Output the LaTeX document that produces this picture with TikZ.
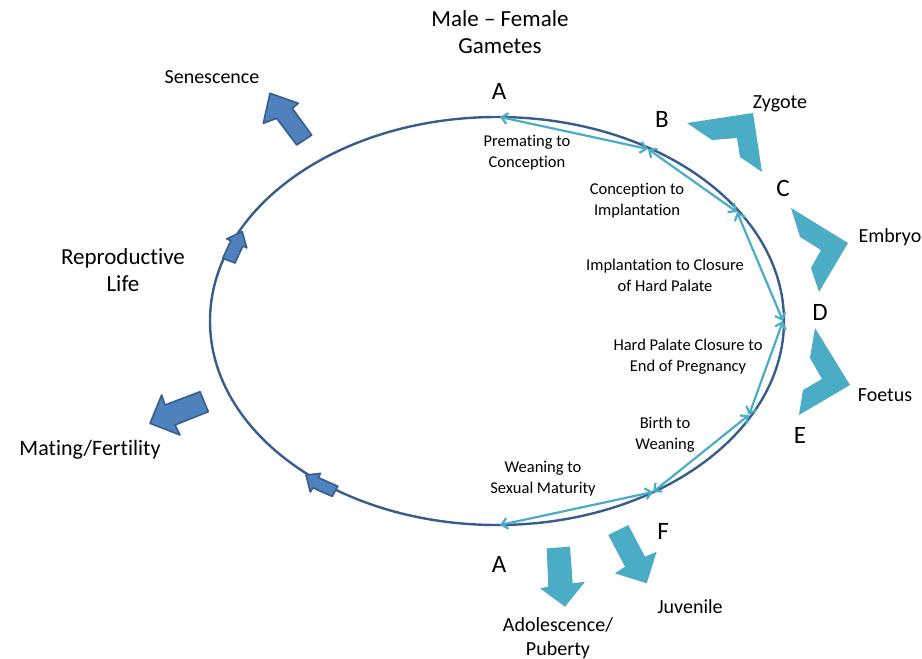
\documentclass[tikz,border=0pt]{standalone}
\usepackage{fontspec}
\setmainfont{Carlito}[Ligatures=NoCommon]
\usepackage{tikz}
\usetikzlibrary{arrows.meta}
\definecolor{cycblue}{RGB}{56,93,138}
\definecolor{stagecyan}{RGB}{75,172,198}
\definecolor{lifeblue}{RGB}{79,129,189}

\begin{document}
\begin{tikzpicture}[x=1pt, y=-1pt,
  bigtxt/.style={font=\fontsize{23}{27.5}\selectfont, align=center},
  lettertxt/.style={font=\fontsize{25}{30}\selectfont},
  midtxt/.style={font=\fontsize{20}{24}\selectfont, align=center},
  stagetxt/.style={font=\fontsize{16.5}{21}\selectfont, align=center},
  chord/.style={stagecyan, line width=2.2pt,
    {Straight Barb[length=6pt,width=11pt]}-{Straight Barb[length=6pt,width=11pt]}},
  chevron/.style={fill=stagecyan},
  lifearrow/.style={fill=lifeblue, draw=cycblue, line width=1.6pt, line join=round}]
  \useasboundingbox (0,0) rectangle (922,659);

  % the cycle
  \draw[cycblue, line width=2.4pt] (497,321) ellipse [x radius=287pt, y radius=204pt];
  \coordinate (pA) at (500,117);
  \coordinate (pB) at (648,149);
  \coordinate (pC) at (737,212);
  \coordinate (pD) at (783,321);
  \coordinate (pE) at (749,415);
  \coordinate (pF) at (653,492);
  \coordinate (pA2) at (500,525);
  \draw[chord] (pA)--(pB);  \draw[chord] (pB)--(pC);
  \draw[chord] (pC)--(pD);  \draw[chord] (pD)--(pE);
  \draw[chord] (pE)--(pF);  \draw[chord] (pF)--(pA2);

  % letters
  \node[lettertxt] (lA) at (499,91) {A};
  \node[lettertxt] (lB) at (662,119) {B};
  \node[lettertxt] (lC) at (783,188) {C};
  \node[lettertxt] (lD) at (820,312) {D};
  \node[lettertxt] (lE) at (800,435) {E};
  \node[lettertxt] (lF) at (663,531) {F};
  \node[lettertxt] (lA2) at (499,564) {A};

  \node[bigtxt] (gam) at (500,32) {Male -- Female\\Gametes};
  \node[bigtxt] (repro) at (123,270) {Reproductive\\Life};

  % stage labels
  \node[stagetxt] (s1) at (527,153) {Premating to\\Conception};
  \node[stagetxt] (s2) at (637,201) {Conception to\\Implantation};
  \node[stagetxt] (s3) at (665,275) {Implantation to Closure\\of Hard Palate};
  \node[stagetxt] (s4) at (688,357) {Hard Palate Closure to\\End of Pregnancy};
  \node[stagetxt] (s5) at (665,435) {Birth to\\Weaning};
  \node[stagetxt] (s6) at (543,479) {Weaning to\\Sexual Maturity};

  % chevrons
  \fill[chevron] (687,123)--(753,113)--(762,172)--(740,157)--(737,138)--(712,140)--cycle;
  \fill[chevron] (791,208)--(848,243)--(819,292)--(811,268)--(821,250)--(800,237)--cycle;
  \fill[chevron] (815,328)--(850,385)--(799,415)--(803,390)--(822,379)--(810,358)--cycle;
  \node[midtxt] (zyg) at (780,104) {Zygote};
  \node[midtxt] (emb) at (890,237) {Embryo};
  \node[midtxt] (foe) at (885,395) {Foetus};

  % block arrows
  \fill[chevron] (546.7,548.3)--(570,546.7)--(572.7,583.3)--(585,581.7)--(565,606.7)--(540,588.3)--(548.3,586.7)--cycle;
  \fill[chevron] (608.3,535)--(628.3,525)--(645,556.7)--(656.7,551.7)--(646.7,583.3)--(615,573.3)--(625,566.7)--cycle;
  \node[midtxt] (juv) at (690,607) {Juvenile};
  \node[midtxt] (ado) at (558,638) {Adolescence/\\Puberty};

  \draw[lifearrow] (270,93.3)--(298.3,103.3)--(292.3,108.3)--(311.7,135)--(296.7,145)--(276.7,118.3)--(263.3,123.3)--cycle;
  \draw[lifearrow] (150,423.3)--(161.7,395)--(165,405)--(200,391.7)--(208.3,411.7)--(175,425)--(180,435)--cycle;
  \draw[lifearrow] (242.1,231.5)--(246.8,247.9)--(242.8,246.1)--(235,263)--(222.7,258.3)--(230.8,240.7)--(226.8,238.9)--cycle;
  \draw[lifearrow] (306,475)--(320.5,473.4)--(318.3,477.6)--(337.8,486.2)--(332.2,496.4)--(312.7,487.8)--(310.3,492)--cycle;
  \node[midtxt] (sen) at (212,77) {Senescence};
  \node[midtxt, font=\fontsize{22}{26}\selectfont] (mat) at (90,450) {Mating/Fertility};
\end{tikzpicture}
\end{document}
